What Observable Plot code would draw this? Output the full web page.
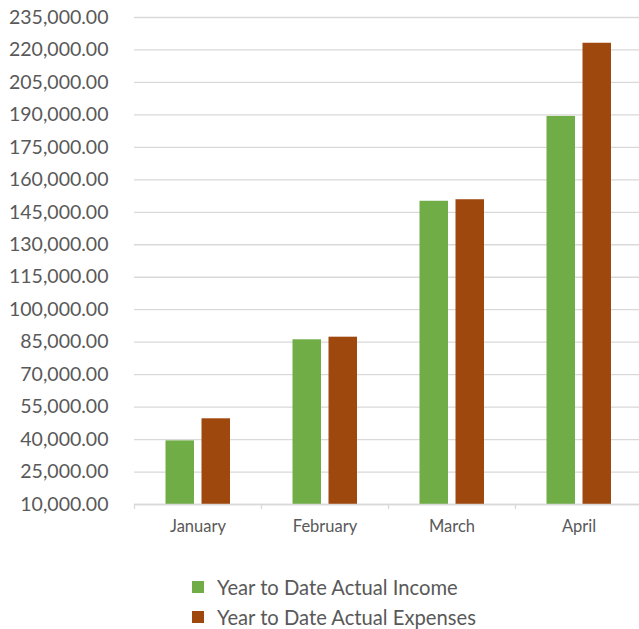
<!DOCTYPE html>
<html>
<head>
<meta charset="utf-8">
<script src="https://cdn.jsdelivr.net/npm/d3@7"></script>
<script src="https://cdn.jsdelivr.net/npm/@observablehq/plot@0.6"></script>
<style>
  html, body { margin: 0; padding: 0; background: #fff; overflow: hidden; }
  body { font-family: Lato, "Open Sans", sans-serif; color: #595959; width: 639px; }
  #legend { margin-top: 27px; padding-left: 192px; }
  .row { display: flex; align-items: center; height: 30px; font-size: 20.2px; color: #595959; }
  .sw { width: 12px; height: 12px; margin-right: 13px; flex: none; }
</style>
</head>
<body>
<div id="chart"></div>
<div id="legend"></div>
<script>
const months = ["January", "February", "March", "April"];
const income = [39400, 86100, 150100, 189300];
const expenses = [49600, 87300, 150800, 223100];
const yTicks = [10000, 25000, 40000, 55000, 70000, 85000, 100000, 115000, 130000, 145000, 160000, 175000, 190000, 205000, 220000, 235000];
const seriesNames = ["Year to Date Actual Income", "Year to Date Actual Expenses"];
const seriesColors = ["#70ad47", "#9e480e"];

const data = months.map((m, i) => ({month: m, income: income[i], expenses: expenses[i]}));
const yMin = yTicks[0], yMax = yTicks[yTicks.length - 1];

const plot = Plot.plot({
  width: 639,
  height: 545,
  marginLeft: 134,
  marginRight: -3,
  marginTop: 17,
  marginBottom: 41,
  style: {fontFamily: "Lato, 'Open Sans', sans-serif", color: "#595959", background: "#fff", overflow: "visible"},
  x: {domain: months, padding: 0, label: null},
  y: {domain: [yMin, yMax], label: null},
  marks: [
    Plot.gridY(yTicks, {stroke: "#d9d9d9", strokeOpacity: 1, strokeWidth: 1.3}),
    Plot.barY(data, {x: "month", y1: yMin, y2: "income", fill: seriesColors[0], insetLeft: 31.5, insetRight: 67}),
    Plot.barY(data, {x: "month", y1: yMin, y2: "expenses", fill: seriesColors[1], insetLeft: 67.5, insetRight: 31}),
    Plot.ruleY([yMin], {stroke: "#d9d9d9", strokeWidth: 1.3}),
    Plot.ruleX(months, {x: d => d, y1: yMin, y2: yMin - 2300, dx: -63.5, stroke: "#d9d9d9", strokeWidth: 1.3}),
    Plot.axisY(yTicks, {tickSize: 0, tickPadding: 26, fontSize: 19.5, tickFormat: d3.format(",.2f"), fill: "#595959", label: null}),
    Plot.axisX({tickSize: 0, tickPadding: 16, fontSize: 16.5, fill: "#595959", label: null})
  ]
});
document.getElementById("chart").appendChild(plot);

const legend = document.getElementById("legend");
seriesNames.forEach((name, i) => {
  const row = document.createElement("div");
  row.className = "row";
  const sw = document.createElement("span");
  sw.className = "sw";
  sw.style.background = seriesColors[i];
  const label = document.createElement("span");
  label.textContent = name;
  row.appendChild(sw);
  row.appendChild(label);
  legend.appendChild(row);
});
</script>
</body>
</html>
